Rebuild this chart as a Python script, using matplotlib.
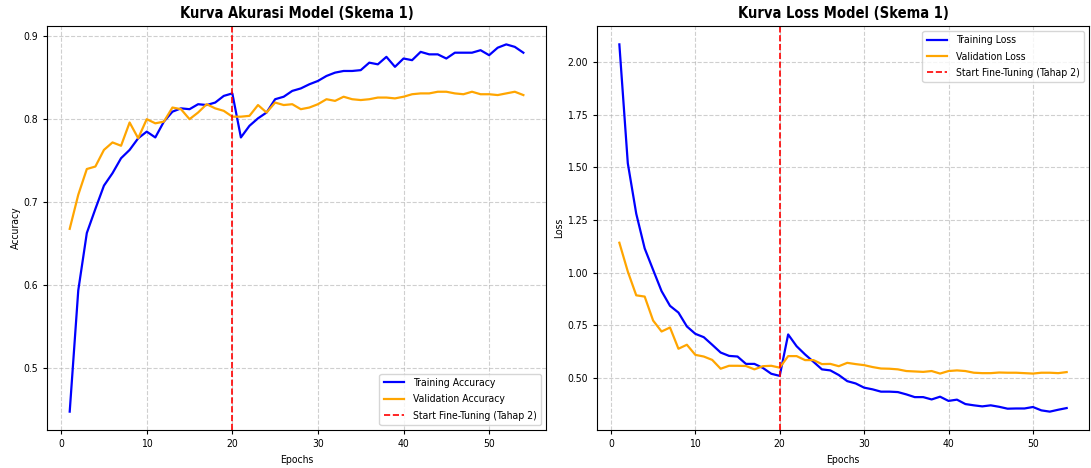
import numpy as np
import matplotlib
matplotlib.use("Agg")
import matplotlib.pyplot as plt

# =========================
# Data
# =========================
FINE_TUNE_EPOCH = 20

train_acc = [
    0.448, 0.594, 0.663, 0.692, 0.720, 0.735, 0.753, 0.763, 0.777, 0.785,
    0.778, 0.797, 0.809, 0.813, 0.812, 0.818, 0.817, 0.820, 0.828, 0.831,
    0.778, 0.792, 0.801, 0.808, 0.824, 0.827, 0.834, 0.837, 0.842, 0.846,
    0.852, 0.856, 0.858, 0.858, 0.859, 0.868, 0.866, 0.875, 0.863, 0.873,
    0.871, 0.881, 0.878, 0.878, 0.873, 0.880, 0.880, 0.880, 0.883, 0.877,
    0.886, 0.890, 0.887, 0.880,
]
val_acc = [
    0.668, 0.709, 0.740, 0.743, 0.763, 0.772, 0.768, 0.796, 0.777, 0.800,
    0.795, 0.797, 0.814, 0.812, 0.800, 0.808, 0.818, 0.813, 0.810, 0.803,
    0.803, 0.804, 0.817, 0.808, 0.820, 0.817, 0.818, 0.812, 0.814, 0.818,
    0.824, 0.822, 0.827, 0.824, 0.823, 0.824, 0.826, 0.826, 0.825, 0.827,
    0.830, 0.831, 0.831, 0.833, 0.833, 0.831, 0.830, 0.833, 0.830, 0.830,
    0.829, 0.831, 0.833, 0.829,
]
train_loss = [
    2.085, 1.520, 1.280, 1.115, 1.013, 0.912, 0.842, 0.810, 0.744, 0.709,
    0.693, 0.657, 0.620, 0.604, 0.601, 0.566, 0.566, 0.547, 0.519, 0.509,
    0.706, 0.650, 0.611, 0.576, 0.540, 0.535, 0.513, 0.484, 0.473, 0.453,
    0.445, 0.434, 0.434, 0.432, 0.421, 0.408, 0.408, 0.397, 0.410, 0.390,
    0.396, 0.375, 0.369, 0.364, 0.369, 0.362, 0.353, 0.354, 0.354, 0.361,
    0.345, 0.339, 0.348, 0.356,
]
val_loss = [
    1.142, 1.005, 0.892, 0.886, 0.772, 0.720, 0.739, 0.638, 0.657, 0.609,
    0.601, 0.585, 0.543, 0.557, 0.557, 0.556, 0.540, 0.555, 0.557, 0.548,
    0.603, 0.603, 0.584, 0.584, 0.565, 0.566, 0.555, 0.571, 0.565, 0.560,
    0.551, 0.544, 0.543, 0.540, 0.532, 0.530, 0.528, 0.532, 0.520, 0.532,
    0.535, 0.532, 0.524, 0.522, 0.522, 0.525, 0.524, 0.524, 0.522, 0.520,
    0.524, 0.524, 0.522, 0.527,
]
epochs = np.arange(1, len(train_acc) + 1)

# the reference text is narrow, DejaVu Sans Condensed matches it well
plt.rcParams["font.stretch"] = "condensed"

FS_TICK = 7.5
FS_LABEL = 7.5
FS_LEGEND = 7.5
FS_TITLE = 10.5
LW = 1.6

fig = plt.figure(figsize=(10.91, 4.68), dpi=100)
ax1 = fig.add_axes([0.0431, 0.0812, 0.4574, 0.8632])
ax2 = fig.add_axes([0.5472, 0.0812, 0.4510, 0.8632])


def style_axis(ax, title, ylabel):
    ax.set_title(title, fontsize=FS_TITLE, fontweight="bold")
    ax.set_xlabel("Epochs", fontsize=FS_LABEL)
    ax.set_ylabel(ylabel, fontsize=FS_LABEL, labelpad=2)
    ax.tick_params(labelsize=FS_TICK, length=3)
    ax.grid(True, linestyle="--", alpha=0.6)


# -------------------------
# Accuracy plot
# -------------------------
ax1.plot(epochs, train_acc, color="blue", lw=LW, label="Training Accuracy")
ax1.plot(epochs, val_acc, color="orange", lw=LW, label="Validation Accuracy")
ax1.axvline(FINE_TUNE_EPOCH, color="red", linestyle="--", lw=1.2,
            label="Start Fine-Tuning (Tahap 2)")
style_axis(ax1, "Kurva Akurasi Model (Skema 1)", "Accuracy")
ax1.legend(loc="lower right", fontsize=FS_LEGEND, labelspacing=0.6)

# -------------------------
# Loss plot
# -------------------------
ax2.plot(epochs, train_loss, color="blue", lw=LW, label="Training Loss")
ax2.plot(epochs, val_loss, color="orange", lw=LW, label="Validation Loss")
ax2.axvline(FINE_TUNE_EPOCH, color="red", linestyle="--", lw=1.2,
            label="Start Fine-Tuning (Tahap 2)")
style_axis(ax2, "Kurva Loss Model (Skema 1)", "Loss")
ax2.legend(loc="upper right", fontsize=FS_LEGEND, labelspacing=0.6)

fig.savefig("out.png", dpi=100)
